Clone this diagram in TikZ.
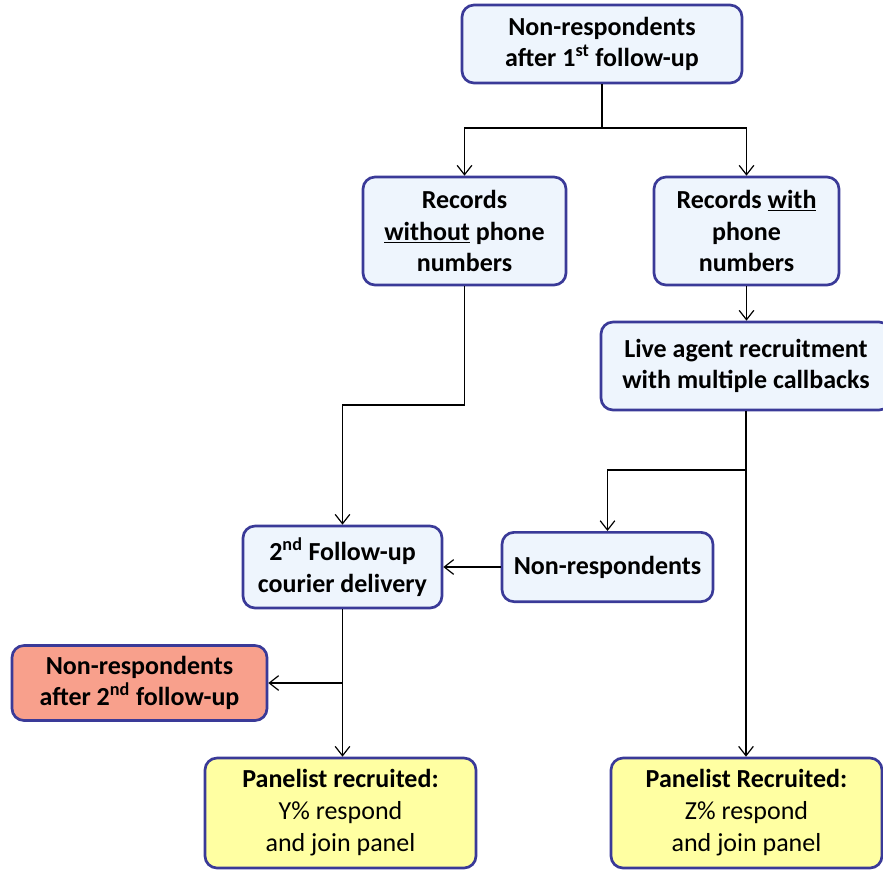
\documentclass[tikz,border=0pt]{standalone}
\usepackage{fontspec}
\setmainfont{Carlito}
\usetikzlibrary{positioning, arrows.meta}

\definecolor{boxblue}{HTML}{EEF5FD}
\definecolor{boxline}{HTML}{3A3A98}
\definecolor{boxred}{HTML}{F8A08C}
\definecolor{boxyellow}{HTML}{FFFFA2}

\begin{document}
\begin{tikzpicture}[x=0.75pt, y=-0.75pt,
    block/.style={draw=boxline, line width=2pt, rounded corners=9pt, fill=boxblue,
        align=center, inner sep=2pt, font=\fontsize{19.5}{23.5}\selectfont\bfseries},
    stopbox/.style={block, fill=boxred},
    endbox/.style={block, fill=boxyellow, font=\fontsize{19.5}{24}\selectfont},
    arr/.style={-{Straight Barb[length=7pt, width=11pt]}, line width=0.9pt},
    line/.style={line width=0.9pt}]
    \useasboundingbox (0,0) rectangle (883,869);

    \node[block, minimum width=210pt, minimum height=58.5pt]      (nr1)   at (602,44)    {Non-respondents\\after 1\textsuperscript{st} follow-up};
    \node[block, minimum width=152.25pt, minimum height=81pt]     (nophone) at (464.5,231) {Records\\\underline{without} phone\\numbers};
    \node[block, minimum width=138.75pt, minimum height=81pt]     (phone) at (746.5,231) {Records \underline{with}\\phone\\numbers};
    \node[block, minimum width=217.5pt, minimum height=66pt]      (agent) at (746,366)   {Live agent recruitment\\with multiple callbacks};
    \node[block, minimum width=158.25pt, minimum height=52pt]     (nr)    at (607.5,567) {Non-respondents};
    \node[block, minimum width=149.25pt, minimum height=61.5pt]   (courier) at (342.5,567) {2\textsuperscript{nd} Follow-up\\courier delivery};
    \node[stopbox, minimum width=191.25pt, minimum height=56.25pt] (nr2)  at (139.5,683) {Non-respondents\\after 2\textsuperscript{nd} follow-up};
    \node[endbox, minimum width=203.25pt, minimum height=82.5pt]  (paney) at (340.5,813) {\textbf{Panelist recruited:}\\Y\% respond\\and join panel};
    \node[endbox, minimum width=203.25pt, minimum height=82.5pt]  (panez) at (746.5,813) {\textbf{Panelist Recruited:}\\Z\% respond\\and join panel};

    % split points of the connectors
    \coordinate (s1) at (602,128);
    \coordinate (s2) at (746,470);
    \coordinate (s3) at (464.5,405);
    \coordinate (s4) at (342.5,683);

    \draw[line] (nr1.south) -- (s1);
    \draw[arr] (s1) -| (nophone.north);
    \draw[arr] (s1) -| (phone.north);
    \draw[arr] (phone.south) -- (phone.south |- agent.north);

    \draw[line] (agent.south) -- (s2);
    \draw[arr] (s2) -| (nr.north);
    \draw[arr] (s2) -- (s2 |- panez.north);

    \draw[line] (nophone.south) -- (s3);
    \draw[arr] (s3) -| (courier.north);
    \draw[arr] (nr.west) -- (courier.east);

    \draw[line] (courier.south) -- (s4);
    \draw[arr] (s4) -- (nr2.east);
    \draw[arr] (s4) -- (paney.north -| s4);
\end{tikzpicture}
\end{document}
